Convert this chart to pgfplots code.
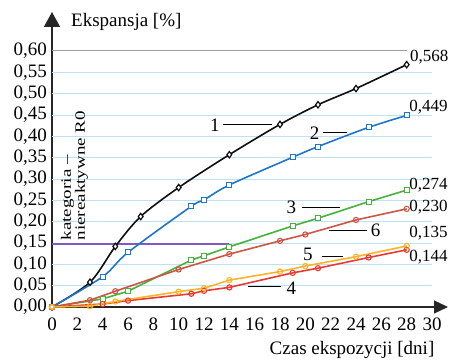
\documentclass[border=0pt]{standalone}
\usepackage{pgfplots}
\pgfplotsset{compat=1.18}
\usepackage{fontspec}
\setmainfont{Liberation Serif}
\usetikzlibrary{arrows.meta}
\definecolor{cblack}{RGB}{15,15,15}
\definecolor{cblue}{RGB}{30,118,200}
\definecolor{cgreen}{RGB}{70,178,60}
\definecolor{cbrown}{RGB}{205,85,70}
\definecolor{corange}{RGB}{250,180,40}
\definecolor{cred}{RGB}{232,58,50}
\definecolor{cpurple}{RGB}{130,90,190}
\definecolor{gridblue}{RGB}{190,225,245}
\begin{document}
\begin{tikzpicture}[font=\fontsize{19}{22}\selectfont]
\begin{axis}[
  scale only axis, width=380pt, height=256pt,
  xmin=0, xmax=30, ymin=0, ymax=0.6,
  axis lines=left,
  axis line style={line width=1.3pt, color=black!85},
  x axis line style={-{Triangle[length=14pt,width=13pt]}, shorten >=-16pt},
  y axis line style={-{Triangle[length=15pt,width=16pt]}, shorten >=-39pt},
  xtick={0,2,4,6,8,10,12,14,16,18,20,22,24,26,28,30},
  ytick={0,0.05,0.1,0.15,0.2,0.25,0.3,0.35,0.4,0.45,0.5,0.55,0.6},
  yticklabel={\pgfmathprintnumber[fixed,fixed zerofill,precision=2,use comma]{\tick}},
  /pgf/number format/assume math mode=true,
  major tick length=0, minor tick length=0,
  yticklabel style={inner sep=2pt, xshift=-3pt},
  xticklabel style={inner sep=2pt, yshift=-9pt},
  clip=false,
]
\coordinate (O) at (axis cs:0,0);
\pgfplotsinvokeforeach{0.05,0.1,0.15,0.2,0.25,0.3,0.35,0.4,0.45,0.5,0.55}{
  \draw[gridblue, line width=0.8pt] (axis cs:0,#1) -- (axis cs:30,#1);
}
\draw[gray!75, line width=1pt] (axis cs:0,0.6) -- (axis cs:28,0.6);
% purple reference line
\addplot[cpurple, line width=1.5pt, no marks] coordinates {(0,0.148) (14,0.148)};
% 1 black
\addplot[cblack, line width=1.6pt, smooth, mark=diamond*, mark size=3.2pt, mark options={fill=white, line width=1.2pt}]
 coordinates {(0,0) (3,0.058) (5,0.142) (7,0.212) (10,0.280) (14,0.357) (18,0.428) (21,0.474) (24,0.512) (28,0.568)};
% 2 blue
\addplot[cblue, line width=1.6pt, smooth, mark=square*, mark size=2.5pt, mark options={fill=white, line width=1.1pt}]
 coordinates {(0,0) (4,0.071) (6,0.128) (11,0.236) (12,0.251) (14,0.286) (19,0.351) (21,0.376) (25,0.421) (28,0.449)};
% 3 green
\addplot[cgreen, line width=1.6pt, mark=square*, mark size=2.5pt, mark options={fill=white, line width=1.1pt}]
 coordinates {(0,0) (4,0.019) (6,0.037) (11,0.110) (12,0.120) (14,0.141) (19,0.190) (21,0.208) (25,0.247) (28,0.274)};
% 6 brown-red
\addplot[cbrown, line width=1.6pt, mark=o, mark size=2.6pt, mark options={line width=1.1pt}]
 coordinates {(0,0) (3,0.016) (5,0.037) (10,0.088) (14,0.124) (18,0.155) (20,0.170) (24,0.204) (28,0.230)};
% 4 red
\addplot[cred, line width=1.6pt, mark=o, mark size=2.6pt, mark options={line width=1.1pt}]
 coordinates {(0,0) (4,0.007) (6,0.015) (11,0.031) (12,0.038) (14,0.046) (19,0.080) (21,0.091) (25,0.116) (28,0.134)};
% 5 orange
\addplot[corange, line width=1.6pt, mark=o, mark size=2.6pt, mark options={line width=1.1pt}]
 coordinates {(0,0) (3,0.002) (5,0.013) (10,0.036) (12,0.044) (14,0.063) (18,0.083) (20,0.096) (24,0.118) (28,0.143)};
% series numbers
\draw[black, line width=1pt] (axis cs:13.5,0.427) -- (axis cs:17.4,0.427);
\node at (axis cs:12.85,0.427) {1};
\draw[black, line width=1pt] (axis cs:21.4,0.408) -- (axis cs:23.3,0.408);
\node at (axis cs:20.74,0.408) {2};
\draw[black, line width=1pt] (axis cs:19.7,0.234) -- (axis cs:22.7,0.234);
\node at (axis cs:18.9,0.234) {3};
\draw[black, line width=1pt] (axis cs:21.9,0.179) -- (axis cs:24.9,0.179);
\node at (axis cs:25.55,0.179) {6};
\draw[black, line width=1pt] (axis cs:21.3,0.118) -- (axis cs:23.0,0.118);
\node at (axis cs:20.2,0.124) {5};
\draw[black, line width=1pt] (axis cs:15.5,0.047) -- (axis cs:18.1,0.047);
\node at (axis cs:18.9,0.044) {4};
% end values
\begin{scope}[every node/.style={anchor=west, inner sep=0pt, font=\fontsize{17}{20}\selectfont}]
\node at (axis cs:28.25,0.586) {0,568};
\node at (axis cs:28.2,0.469) {0,449};
\node at (axis cs:28.2,0.286) {0,274};
\node at (axis cs:28.2,0.235) {0,230};
\node at (axis cs:28.2,0.173) {0,135};
\node at (axis cs:28.2,0.116) {0,144};
\end{scope}
% vertical category text
\node[rotate=90, anchor=north west, inner sep=0pt] at (axis cs:0.7,0.156)
  {\scalebox{1}[0.75]{\fontsize{19}{18}\selectfont\begin{tabular}{@{}l@{}}kategoria –\\niereaktywne R0\end{tabular}}};
% axis titles
\node[anchor=base west, inner sep=0pt] at (axis cs:1.5,0.657) {Ekspansja [\%]};
\node[anchor=base east, inner sep=0pt] at (axis cs:30.2,-0.112) {Czas ekspozycji [dni]};
\end{axis}
\pgfresetboundingbox
\path ([shift={(-52pt,-52pt)}]O) rectangle ([shift={(400pt,307pt)}]O);
\end{tikzpicture}
\end{document}
